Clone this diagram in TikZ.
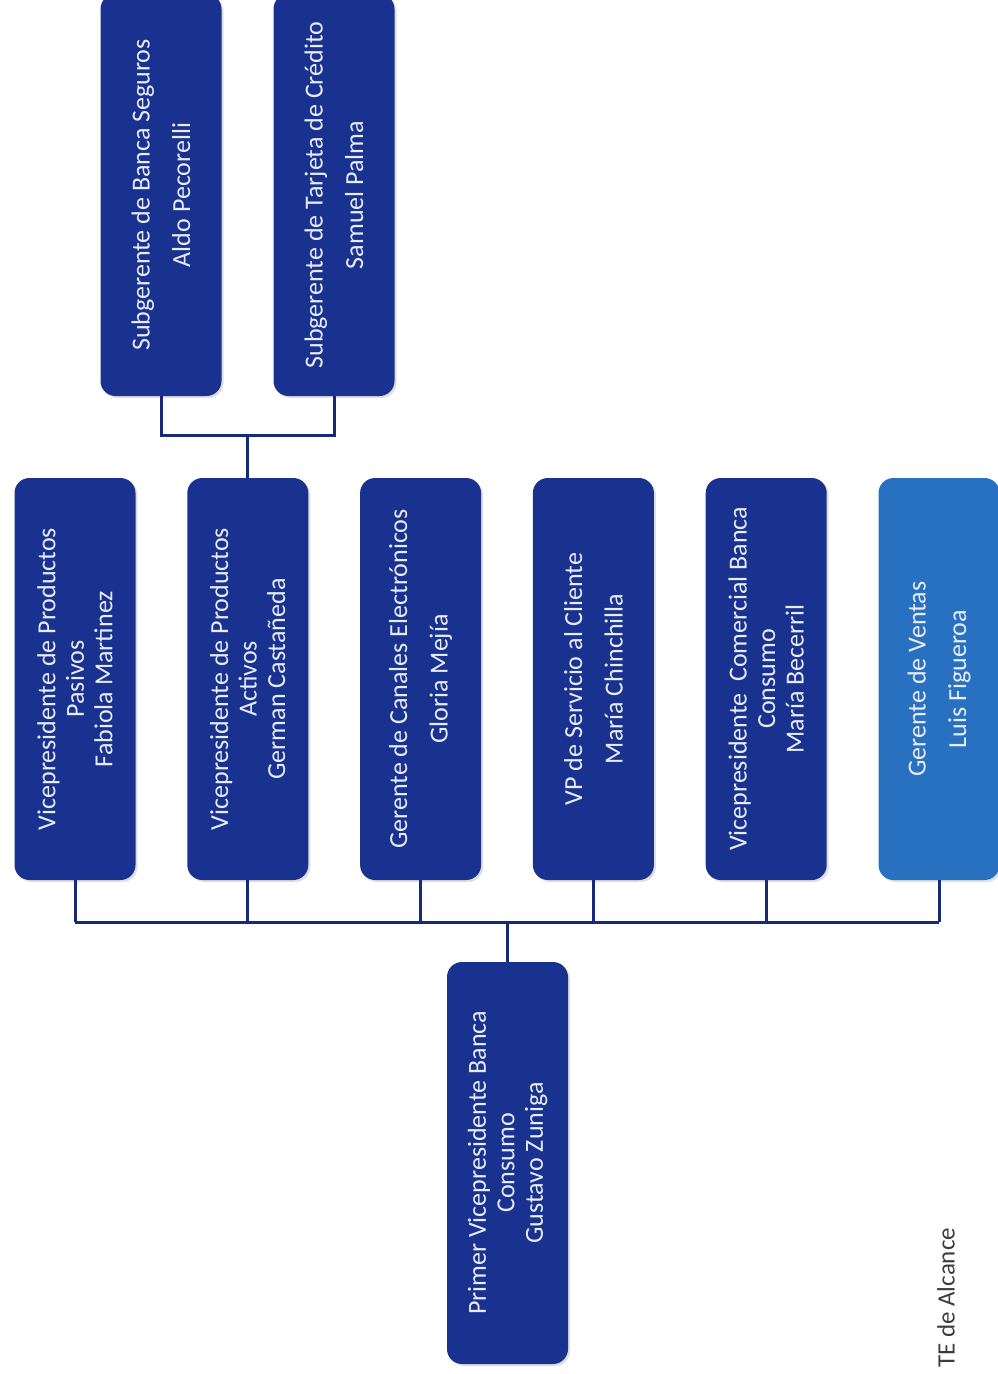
\documentclass[tikz,border=0pt]{standalone}
\usepackage{fontspec}
\setmainfont{Carlito}
\usetikzlibrary{shadows}
\definecolor{boxblue}{RGB}{25,50,144}
\definecolor{boxlight}{RGB}{40,112,192}
\definecolor{linkblue}{RGB}{22,42,122}
\definecolor{labelwhite}{RGB}{232,236,248}
\definecolor{notegray}{RGB}{60,60,60}
\tikzset{
  unit/.style={rotate=90, rounded corners=15pt, fill=boxblue, text=labelwhite,
    minimum width=402pt, minimum height=121pt, align=center, inner sep=0pt,
    font=\fontsize{26pt}{28.5pt}\selectfont,
    drop shadow={opacity=0.25, shadow xshift=2pt, shadow yshift=-2pt}},
  unitlight/.style={unit, fill=boxlight},
  link/.style={draw=linkblue, line width=3pt}
}
\begin{document}
\begin{tikzpicture}[x=1pt, y=-1pt]
\useasboundingbox (0,0) rectangle (997,1374);
% root
\node[unit] (root) at (507.5,1163) {Primer Vicepresidente Banca\\Consumo\\Gustavo Zuniga};
% second level
\node[unit] (pas) at (75,679) {Vicepresidente de Productos\\Pasivos\\Fabiola Martinez};
\node[unit] (act) at (247.8,679) {Vicepresidente de Productos\\Activos\\German Castañeda};
\node[unit] (can) at (420.6,679) {Gerente de Canales Electrónicos\\[12pt]Gloria Mejía};
\node[unit] (ser) at (593.4,679) {VP de Servicio al Cliente\\[12pt]María Chinchilla};
\node[unit] (com) at (766.2,679) {Vicepresidente\ \ Comercial Banca\\Consumo\\María Becerril};
\node[unitlight] (ven) at (939,679) {Gerente de Ventas\\[12pt]Luis Figueroa};
% third level
\node[unit] (seg) at (161,195) {Subgerente de Banca Seguros\\[12pt]Aldo Pecorelli};
\node[unit] (tar) at (334,195) {Subgerente de Tarjeta de Crédito\\[12pt]Samuel Palma};
% note at the lower right
\node[rotate=90, anchor=west, text=notegray, inner sep=0pt,
  font=\fontsize{25pt}{30pt}\selectfont] (note) at (946,1368) {TE de Alcance};
% bus under the second level
\coordinate (busL) at (75,922);
\coordinate (busR) at (939,922);
\draw[link] (root.east) -- (root.east |- busL);
\draw[link] (busL) -- (busR);
\foreach \n in {pas,act,can,ser,com,ven}
  \draw[link] (\n.west) -- (\n.west |- busL);
% bus under the third level
\coordinate (topbus) at (247.8,435);
\draw[link] (act.east) -- (topbus);
\draw[link] (seg.west) -- (seg.west |- topbus) -- (tar.west |- topbus) -- (tar.west);
\end{tikzpicture}
\end{document}
